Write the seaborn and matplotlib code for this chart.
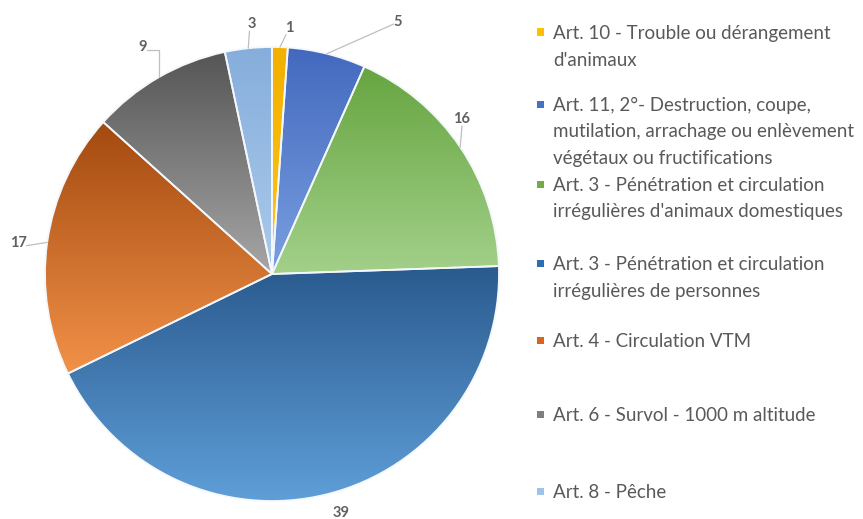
import numpy as np
import matplotlib
matplotlib.use("Agg")
import matplotlib.pyplot as plt
from matplotlib.colors import LinearSegmentedColormap
from matplotlib.patches import Rectangle
import seaborn as sns

sns.set_theme(style="white")
plt.rcParams["font.family"] = ["Lato", "DejaVu Sans"]

# Infractions constatées par article
categories = [
    "Art. 10 - Trouble ou dérangement\nd'animaux",
    "Art. 11, 2°- Destruction, coupe,\nmutilation, arrachage ou enlèvement\nvégétaux ou fructifications",
    "Art. 3 - Pénétration et circulation\nirrégulières d'animaux domestiques",
    "Art. 3 - Pénétration et circulation\nirrégulières de personnes",
    "Art. 4 - Circulation VTM",
    "Art. 6 - Survol - 1000 m altitude",
    "Art. 8 - Pêche",
]
counts = [1, 5, 16, 39, 17, 9, 3]

# Base colour of each slice plus the dark (top) and light (bottom) ends of its fill
base_colors = ["#FFC000", "#4472C4", "#70AD47", "#2E6DB0", "#D5661E", "#7F7F7F", "#9DC3E6"]
top_colors = ["#F2B000", "#4269BE", "#66A540", "#2A5A8E", "#A34A10", "#555555", "#86AEDC"]
bottom_colors = ["#FFC61A", "#7A9FE0", "#A3D08A", "#60A0DA", "#F29148", "#A6A6A6", "#ABCAEB"]

# Value label anchors (data units, pie radius = 1) and leader line shapes
label_xy = [(0.075, 1.085), (0.555, 1.110), (0.837, 0.683), (0.304, -1.053),
            (-1.119, 0.137), (-0.568, 1.000), (-0.088, 1.101)]
label_relpos = [(0.15, 0.0), (0.0, 0.35), (0.5, 0.0), None, (1.0, 0.3), (1.0, 0.3), (0.2, 0.0)]
label_conn = ["arc3", "angle,angleA=0,angleB=24,rad=0", "arc3", None, "arc3",
              "angle,angleA=0,angleB=90,rad=0", "arc3"]

W, H = 863, 519
fig = plt.figure(figsize=(W / 100, H / 100), dpi=100)
fig.patch.set_facecolor("white")

cx, cy, r = 272, 274, 227
ax = fig.add_axes([(cx - r) / W, (H - cy - r) / H, 2 * r / W, 2 * r / H])

wedges, _ = ax.pie(
    counts, colors=base_colors, startangle=90, counterclock=False,
    wedgeprops=dict(edgecolor="#F4F7FB", linewidth=1.3), radius=1.0,
)

# Vertical gradient fill clipped to each wedge
for w, c_top, c_bot in zip(wedges, top_colors, bottom_colors):
    verts = w.get_path().vertices
    x0, x1 = verts[:, 0].min(), verts[:, 0].max()
    y0, y1 = verts[:, 1].min(), verts[:, 1].max()
    cmap = LinearSegmentedColormap.from_list("g", [c_bot, c_top])
    grad = np.linspace(0, 1, 256).reshape(-1, 1)
    im = ax.imshow(grad, cmap=cmap, extent=[x0, x1, y0, y1], origin="lower",
                   aspect="auto", interpolation="bilinear", zorder=1)
    im.set_clip_path(w)
    w.set_facecolor("none")
    w.set_zorder(2)

# Value labels with leader lines from the slice edge
for w, v, xy, rel, conn in zip(wedges, counts, label_xy, label_relpos, label_conn):
    mid = np.deg2rad((w.theta1 + w.theta2) / 2)
    edge = (np.cos(mid), np.sin(mid))
    if conn is None:
        ax.text(xy[0], xy[1], str(v), ha="center", va="center", fontsize=10.5,
                color="#606060", fontweight="bold")
        continue
    ax.annotate(
        str(v), xy=edge, xytext=xy, ha="center", va="center", fontsize=10.5,
        color="#606060", fontweight="bold",
        arrowprops=dict(arrowstyle="-", color="#BFBFBF", lw=0.9, relpos=rel,
                        connectionstyle=conn, shrinkA=0, shrinkB=0, patchA=None),
        annotation_clip=False,
    )

ax.set_xlim(-1, 1)
ax.set_ylim(-1, 1)
ax.set_aspect("equal")
ax.axis("off")

# Legend: square markers with wrapped labels, one text per line
legend_first_line = [32, 104, 184, 263, 340, 414, 491]
line_step = 26.5
for cat, col, y0 in zip(categories, base_colors, legend_first_line):
    fig.patches.append(Rectangle((537 / W, (H - y0 - 3.5) / H), 7 / W, 7 / H,
                                 transform=fig.transFigure, facecolor=col,
                                 edgecolor="none"))
    for i, line in enumerate(cat.split("\n")):
        fig.text(553 / W, (H - y0 - i * line_step) / H, line, ha="left",
                 va="center_baseline", fontsize=13.5, color="#595959",
                 transform=fig.transFigure)

fig.savefig("out.png", dpi=100, facecolor="white")
